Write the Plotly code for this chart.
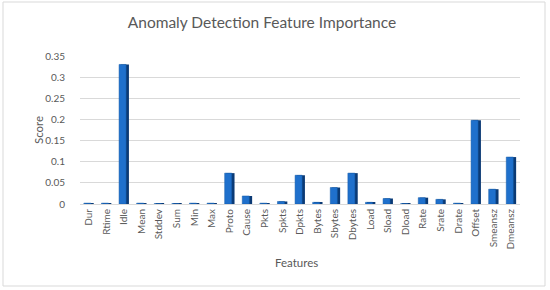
import plotly.graph_objects as go

features = ["Dur", "Rtime", "Idle", "Mean", "Stddev", "Sum", "Min", "Max", "Proto", "Cause",
            "Pkts", "Spkts", "Dpkts", "Bytes", "Sbytes", "Dbytes", "Load", "Sload", "Dload",
            "Rate", "Srate", "Drate", "Offset", "Smeansz", "Dmeansz"]
scores = [0.002, 0.002, 0.33, 0.002, 0.001, 0.001, 0.002, 0.002, 0.073, 0.019,
          0.002, 0.006, 0.068, 0.004, 0.039, 0.073, 0.004, 0.013, 0.001,
          0.015, 0.011, 0.002, 0.198, 0.035, 0.111]
y_ticks = [0, 0.05, 0.1, 0.15, 0.2, 0.25, 0.3, 0.35]
y_tick_text = ["0", "0.05", "0.1", "0.15", "0.2", "0.25", "0.3", "0.35"]

FONT = "Lato, Open Sans, Liberation Sans, sans-serif"
GRAY = "#595959"
L, R, T, B = 80, 30, 56, 86
PW, PH = 550 - L - R, 290 - T - B

fig = go.Figure()
# dark side face (3D effect)
fig.add_trace(go.Bar(x=features, y=scores, width=0.48, offset=-0.2,
                     marker=dict(color="#0b3a75", line=dict(width=0)),
                     hoverinfo="skip", showlegend=False))
# front face
fig.add_trace(go.Bar(x=features, y=scores, width=0.40, offset=-0.28,
                     marker=dict(color="#1f70cc", line=dict(color="#155aa6", width=0.5)),
                     showlegend=False))

fig.update_layout(
    width=550, height=290,
    margin=dict(l=L, r=R, t=T, b=B, autoexpand=False),
    barmode="overlay",
    paper_bgcolor="white", plot_bgcolor="white",
    font=dict(family=FONT, color=GRAY, size=10),
    title=dict(text="Anomaly Detection Feature Importance", x=(262 - L) / PW, xanchor="center",
               xref="paper", y=1 - 23 / 290, yref="container", yanchor="middle",
               font=dict(size=15.5, color=GRAY, family=FONT)),
    xaxis=dict(automargin=False,
               tickangle=-90, tickfont=dict(size=10, color=GRAY),
               showline=True, linecolor="#d9d9d9", linewidth=1, showgrid=False,
               ticks="", range=[-0.5, len(features) - 0.5]),
    yaxis=dict(automargin=False,
               range=[0, 0.35], tickvals=y_ticks, ticktext=y_tick_text,
               tickfont=dict(size=10, color=GRAY),
               showgrid=True, gridcolor="#d9d9d9", gridwidth=1, zeroline=False,
               showline=False, ticks="outside", tickcolor="rgba(0,0,0,0)", ticklen=12),
    annotations=[
        dict(text="Features", xref="paper", yref="paper", x=(296 - L) / PW, y=-(262 - (T + PH)) / PH,
             xanchor="center", yanchor="middle", showarrow=False,
             font=dict(size=11.5, color=GRAY, family=FONT)),
        dict(text="Score", xref="paper", yref="paper", x=(38 - L) / PW, y=0.5, textangle=-90,
             xanchor="center", yanchor="middle", showarrow=False,
             font=dict(size=11.5, color=GRAY, family=FONT)),
    ],
    shapes=[dict(type="rect", xref="paper", yref="paper",
                 x0=(3 - L) / PW, x1=(545 - L) / PW, y0=-(286 - (T + PH)) / PH, y1=1 + (T - 2) / PH,
                 line=dict(color="#d9d9d9", width=1), layer="above")],
)

fig.write_html("out.html", config={"displayModeBar": False},
               post_script="document.body.style.margin='0';")
